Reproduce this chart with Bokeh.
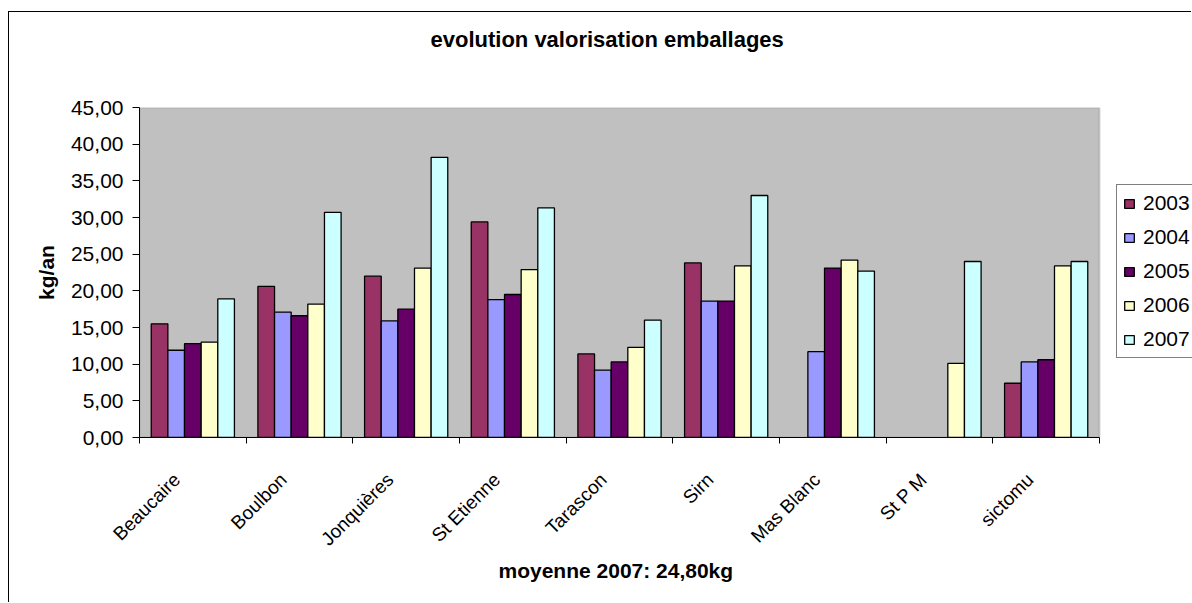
import math
import numpy as np
from bokeh.plotting import figure
from bokeh.models import (ColumnDataSource, Range1d, FixedTicker, BoxAnnotation,
                          CustomJSTickFormatter, Legend, LegendItem, Title)
from bokeh.transform import dodge
from bokeh.embed import file_html
from bokeh.resources import INLINE

# ---------------- data ----------------
cats = ["Beaucaire", "Boulbon", "Jonquières", "St Etienne", "Tarascon",
        "Sirn", "Mas Blanc", "St P M", "sictomu"]
years = ["2003", "2004", "2005", "2006", "2007"]
v2003 = [15.5, 20.6, 22.0, 29.4, 11.4, 23.8, None, None, 7.4]
v2004 = [11.9, 17.1, 15.9, 18.8, 9.2, 18.6, 11.7, None, 10.3]
v2005 = [12.8, 16.6, 17.5, 19.5, 10.3, 18.6, 23.1, None, 10.6]
v2006 = [13.0, 18.2, 23.1, 22.9, 12.3, 23.4, 24.2, 10.1, 23.4]
v2007 = [18.9, 30.7, 38.2, 31.3, 16.0, 33.0, 22.7, 24.0, 24.0]
y_ticks = [0, 5, 10, 15, 20, 25, 30, 35, 40, 45]
title_text = "evolution valorisation emballages"
x_title = "moyenne 2007: 24,80kg"
y_title = "kg/an"

series = [v2003, v2004, v2005, v2006, v2007]
colors = ["#993366", "#9999FF", "#660066", "#FFFFCC", "#CCFFFF"]
FONT = "Liberation Sans"
YMAX = 45

data = {"x": [i + 0.5 for i in range(len(cats))]}
for yr, vals in zip(years, series):
    data["v" + yr] = np.array(vals, dtype=float)
src = ColumnDataSource(data)

# layout (px) : data area 960 px wide, 330 px tall
W, H = 1183, 591
FL, FT, FH = 130, 95, 330
DATA_W = 960
FW = W - FL                      # frame runs to the right edge (legend lives there)
ncat = len(cats)
x_end = ncat * FW / DATA_W

p = figure(width=W, height=H,
           x_range=Range1d(0, x_end), y_range=Range1d(0, YMAX),
           output_backend="svg", toolbar_location=None,
           min_border_left=FL, min_border_right=0,
           min_border_top=FT, min_border_bottom=H - FT - FH,
           background_fill_color="white", border_fill_color="white",
           outline_line_color=None)
p.styles = {"margin-left": "8px", "margin-top": "11px",
            "border-left": "1px solid black", "border-top": "1px solid black"}

# grey plot area
p.add_layout(BoxAnnotation(left=0, right=ncat, bottom=0, top=YMAX,
                           fill_color="#C0C0C0", fill_alpha=1,
                           line_color="#808080", line_width=2, level="underlay"))

# title (+ invisible spacer panel between title and plot area)
p.add_layout(Title(text=" ", text_font_size="1px", standoff=48), "above")
p.title.text = title_text
p.title.align = "left"
p.title.offset = 291
p.title.vertical_align = "bottom"
p.title.text_font = FONT
p.title.text_font_size = "22px"
p.title.text_font_style = "bold"
p.title.text_color = "black"
p.title.standoff = 10

p.xgrid.visible = False
p.ygrid.visible = False

bw = 0.156
renderers = []
for k, yr in enumerate(years):
    r = p.vbar(x=dodge("x", (k - 2) * bw), top="v" + yr, width=bw, bottom=0,
               source=src, fill_color=colors[k], line_color="black",
               line_width=1.3)
    renderers.append(r)

# x axis: labels under each category, ticks between categories
label_shift = 0.15
xa = p.xaxis[0]
xa.bounds = (0, ncat)
xa.ticker = FixedTicker(ticks=[i + 0.5 - label_shift for i in range(ncat)],
                        minor_ticks=list(range(ncat + 1)))
xa.formatter = CustomJSTickFormatter(args=dict(names=cats),
                                     code="return names[Math.floor(tick)];")
xa.major_tick_out = 0
xa.major_tick_in = 0
xa.minor_tick_out = 6
xa.minor_tick_in = 0
xa.minor_tick_line_color = "black"
xa.axis_line_color = "black"
xa.major_label_orientation = math.pi / 4
xa.major_label_text_font = FONT
xa.major_label_text_font_size = "19px"
xa.major_label_text_color = "black"
xa.major_label_standoff = 33

# x-axis title, centred under the grey data area (not under the whole frame)
p.add_layout(Title(text=x_title, align="left", offset=359, vertical_align="top",
                   standoff=-4, text_font=FONT, text_font_size="21px",
                   text_font_style="bold", text_color="black"), "below")

# y axis
ya = p.yaxis[0]
ya.ticker = FixedTicker(ticks=y_ticks)
ya.formatter = CustomJSTickFormatter(code="return tick.toFixed(2).replace('.', ',');")
ya.major_tick_out = 7
ya.major_tick_in = 0
ya.minor_tick_out = 0
ya.minor_tick_in = 0
ya.axis_line_color = "black"
ya.major_tick_line_color = "black"
ya.major_label_text_font = FONT
ya.major_label_text_font_size = "21px"
ya.major_label_text_color = "black"
ya.major_label_standoff = 9
ya.axis_label = y_title
ya.axis_label_text_font = FONT
ya.axis_label_text_font_size = "21px"
ya.axis_label_text_font_style = "bold"
ya.axis_label_text_color = "black"
ya.axis_label_standoff = 10

legend = Legend(items=[LegendItem(label=yr, renderers=[r]) for yr, r in zip(years, renderers)],
                location=(977, 79), orientation="vertical",
                border_line_color="black", border_line_width=1,
                background_fill_color="white", background_fill_alpha=1,
                label_text_font=FONT, label_text_font_size="21px",
                label_text_color="black", label_height=20,
                glyph_width=12, glyph_height=11, label_standoff=8,
                padding=6, spacing=10, margin=0)
p.add_layout(legend)

open("out.html", "w").write(file_html(p, INLINE))
